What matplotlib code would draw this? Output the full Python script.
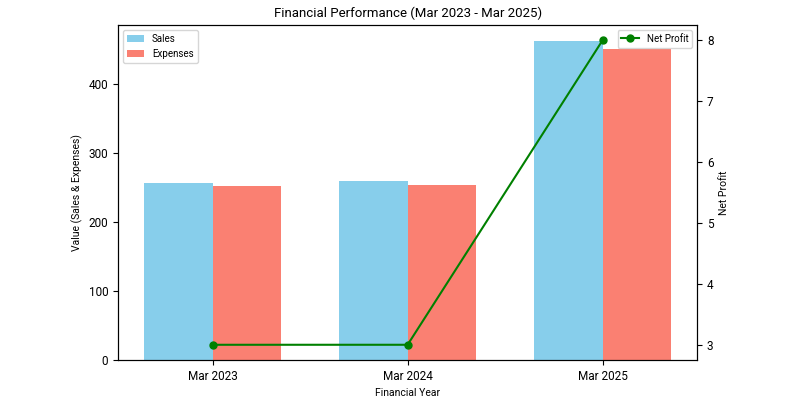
import matplotlib
matplotlib.use("Agg")
import matplotlib.pyplot as plt
import numpy as np

plt.rcParams['font.family'] = ['Roboto', 'DejaVu Sans']

# data
years = ["Mar 2023", "Mar 2024", "Mar 2025"]
sales = [256, 259, 462]
expenses = [252, 254, 451]
net_profit = [3, 3, 8]

x = np.arange(len(years))
width = 0.35

fig, ax1 = plt.subplots(figsize=(8, 4), dpi=100)
fig.subplots_adjust(left=0.1475, right=0.8715, top=0.9375, bottom=0.1)

ax1.bar(x - width / 2, sales, width, label="Sales", color="skyblue")
ax1.bar(x + width / 2, expenses, width, label="Expenses", color="salmon")
ax1.set_xticks(x)
ax1.set_xticklabels(years, fontsize=8.5)
ax1.tick_params(axis='y', labelsize=8.5)
ax1.set_xlabel("Financial Year", fontsize=7.5)
ax1.set_ylabel("Value (Sales & Expenses)", fontsize=7.5)
ax1.legend(loc="upper left", fontsize=7, handlelength=1.8)

ax2 = ax1.twinx()
ax2.plot(x, net_profit, color="green", marker="o", markersize=5, label="Net Profit")
ax2.set_ylabel("Net Profit", fontsize=7.5)
ax2.tick_params(axis='y', labelsize=8.5)
ax2.legend(loc="upper right", fontsize=7, handlelength=1.8)

ax1.set_title("Financial Performance (Mar 2023 - Mar 2025)", fontsize=9.5)

fig.savefig("out.png")
